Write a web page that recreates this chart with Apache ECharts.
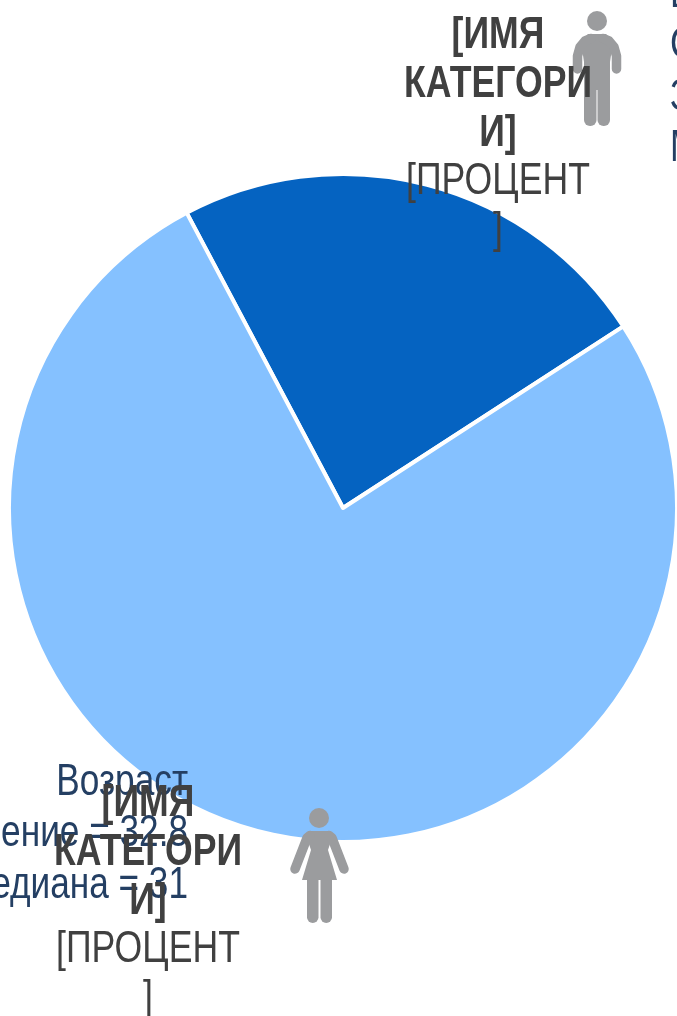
<!DOCTYPE html>
<html>
<head>
<meta charset="utf-8">
<style>html,body{margin:0;padding:0;background:#fff}#c{width:677px;height:1016px}</style>
<script src="https://cdn.jsdelivr.net/npm/echarts@6/dist/echarts.min.js"></script>
</head>
<body>
<div id="c"></div>
<script>
const categories = ['Мужчины', 'Женщины'];
const shares = [23.6, 76.4];
const sliceColors = ['#0563C1', '#85C1FF'];
const nameLabel = '[ИМЯ\nКАТЕГОРИ\nИ]';
const percentLabel = '[ПРОЦЕНТ\n]';
const notesLeft = 'Возраст\nСреднее значение = 32.8\nМедиана = 31';
const notesRight = 'Возраст\nСреднее\nЗначение\nМедиана';

const font = '"Liberation Sans",Arial,sans-serif';
const iconFill = '#9B9C9E';
const noteColor = '#243F63';
const labelColor = '#404040';

function txt(x, y, text, align, weight, color, lh, squeeze) {
  return { type: 'text', x, y, scaleX: squeeze, z: 10, silent: true, style: {
    text, align, verticalAlign: 'top', fill: color,
    font: weight + ' 44px ' + font, lineHeight: lh } };
}
const base = { z: 10, silent: true };
const fill = { fill: iconFill };
const stroke = w => ({ stroke: iconFill, fill: null, lineWidth: w, lineCap: 'round', lineJoin: 'round' });
const circle = (cx, cy, r) => ({ ...base, type: 'circle', shape: { cx, cy, r }, style: fill });
const poly = points => ({ ...base, type: 'polygon', shape: { points }, style: fill });
const line = (points, w) => ({ ...base, type: 'polyline', shape: { points }, style: stroke(w) });
const leg = (x, y, width, height) => ({ ...base, type: 'rect', shape: { x, y, width, height, r: [0, 0, 6, 6] }, style: fill });

const man = [
  circle(597, 21, 10),
  poly([[588, 34], [606, 34], [613, 42], [610, 62], [610, 90], [584, 90], [584, 62], [581, 42]]),
  line([[616.5, 69], [616.5, 56], [614, 47], [609, 41], [603, 38.5]], 9.5),
  line([[577.5, 69], [577.5, 56], [580, 47], [585, 41], [591, 38.5]], 9.5),
  leg(584, 80, 12.5, 46),
  leg(597.5, 80, 12.5, 46)
];
const woman = [
  circle(319, 818, 10),
  poly([[309, 831], [329, 831], [332, 838], [328, 850], [337, 880], [302, 880], [311, 850], [307, 838]]),
  line([[295, 869], [307, 838], [310, 835.5]], 9.5),
  line([[344, 869], [332, 838], [329, 835.5]], 9.5),
  leg(307, 875, 11.5, 48),
  leg(320.5, 875, 11.5, 48)
];

const chart = echarts.init(document.getElementById('c'), null, { renderer: 'canvas' });
chart.setOption({
  animation: false,
  backgroundColor: '#fff',
  series: [{
    type: 'pie', center: [343, 508], radius: [0, 334], startAngle: 117.9, clockwise: true,
    label: { show: false }, labelLine: { show: false }, silent: true,
    itemStyle: { borderColor: '#fff', borderWidth: 4 },
    data: categories.map((name, i) => ({ name, value: shares[i], itemStyle: { color: sliceColors[i] } }))
  }],
  graphic: [
    txt(188, 757, notesLeft, 'right', 'normal', noteColor, 51.5, 0.8),
    txt(670, -31, notesRight, 'left', 'normal', noteColor, 51.5, 0.8),
    ...man,
    ...woman,
    txt(498, 11, nameLabel, 'center', 'bold', labelColor, 49, 0.81),
    txt(498, 157, percentLabel, 'center', 'normal', labelColor, 49, 0.81),
    txt(148, 779, nameLabel, 'center', 'bold', labelColor, 49, 0.81),
    txt(148, 925, percentLabel, 'center', 'normal', labelColor, 49, 0.81)
  ]
});
</script>
</body>
</html>
